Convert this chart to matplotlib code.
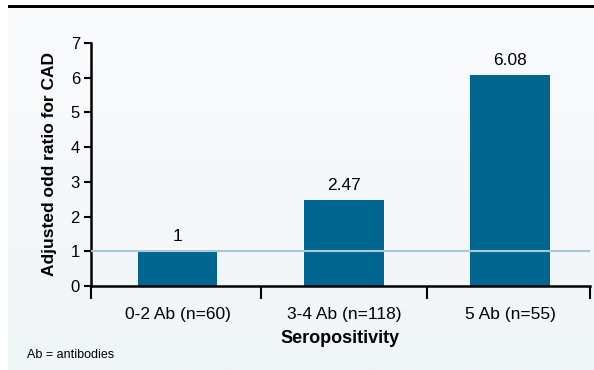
import numpy as np
import matplotlib.pyplot as plt
from matplotlib.colors import LinearSegmentedColormap
from matplotlib.patches import Rectangle

plt.rcParams['font.family'] = ['Liberation Sans', 'DejaVu Sans']

# odds ratios by number of positive antibodies
groups = ["0-2 Ab (n=60)", "3-4 Ab (n=118)", "5 Ab (n=55)"]
odds = [1.0, 2.47, 6.08]
value_labels = ["1", "2.47", "6.08"]
yticks = [0, 1, 2, 3, 4, 5, 6, 7]

bar_color = "#006690"
ref_color = "#a8c9d7"

fig = plt.figure(figsize=(5.94, 3.70), dpi=100)

# soft panel background with a black rule on top
bg = np.linspace(0, 1, 256).reshape(-1, 1)
bg_ax = fig.add_axes([8/594, 0, 1 - 8/594, 1 - 8/370], zorder=-5)
bg_ax.imshow(bg, aspect="auto", extent=[0, 1, 0, 1],
             cmap=LinearSegmentedColormap.from_list("bg", ["#fafbfd", "#f0f5f8"]))
bg_ax.axis("off")
fig.add_artist(Rectangle((8/594, 1 - 8/370), 1, 3/370, facecolor="black",
                         edgecolor="none", transform=fig.transFigure, zorder=10))

ax = fig.add_axes([91/594, 1 - 286/370, 499/594, 243/370])
ax.set_facecolor("none")

x = np.arange(len(groups))
ax.bar(x, odds, width=0.48, color=bar_color, zorder=2)
ax.axhline(1, color=ref_color, lw=1.5, zorder=3)

for xi, v, lab in zip(x, odds, value_labels):
    ax.text(xi, v + 0.2, lab, ha="center", va="bottom", fontsize=12.5)

x0, x1 = -0.52, 2.48
ax.set_xlim(x0, x1)
ax.set_ylim(0, 7)
ax.set_yticks(yticks)
ax.tick_params(axis="y", length=5, width=1.5, labelsize=12, pad=3)

# category boundaries carry the ticks on the x axis
ax.set_xticks([x0, 0.5, 1.5, x1])
ax.set_xticklabels([])
ax.tick_params(axis="x", length=9, width=1.5, direction="out")
ax.set_xticks(x, minor=True)
ax.set_xticklabels(groups, minor=True, fontsize=12.5)
ax.tick_params(axis="x", which="minor", length=0, pad=15)

for side in ["top", "right"]:
    ax.spines[side].set_visible(False)
for side in ["left", "bottom"]:
    ax.spines[side].set_linewidth(1.8)

ax.set_ylabel("Adjusted odd ratio for CAD", fontsize=12.5, fontweight="bold", labelpad=10)
ax.set_xlabel("Seropositivity", fontsize=13, fontweight="bold", labelpad=6)

fig.text(27/594, 1 - 355/370, "Ab = antibodies", fontsize=9, va="center")

fig.savefig("out.png", dpi=100)
